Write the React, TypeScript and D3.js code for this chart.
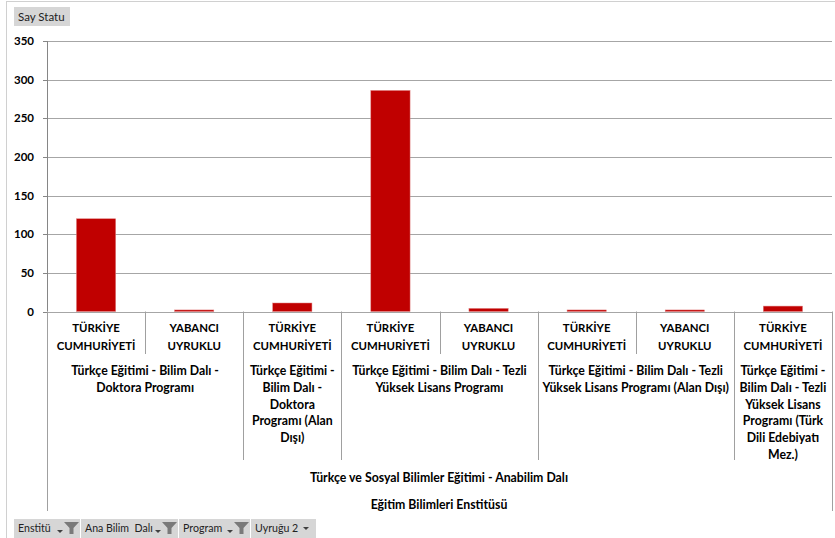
import React from 'react';
import * as d3 from 'd3';

// nationality label per column (level 1)
const nationalities = [
  'TÜRKİYE\nCUMHURİYETİ',
  'YABANCI\nUYRUKLU',
  'TÜRKİYE\nCUMHURİYETİ',
  'TÜRKİYE\nCUMHURİYETİ',
  'YABANCI\nUYRUKLU',
  'TÜRKİYE\nCUMHURİYETİ',
  'YABANCI\nUYRUKLU',
  'TÜRKİYE\nCUMHURİYETİ',
];
// which program each column belongs to (level 2)
const columnProgram = [0, 0, 1, 2, 2, 3, 3, 4];
const programs = [
  'Türkçe Eğitimi - Bilim Dalı -\nDoktora Programı',
  'Türkçe Eğitimi -\nBilim Dalı -\nDoktora\nProgramı (Alan\nDışı)',
  'Türkçe Eğitimi - Bilim Dalı - Tezli\nYüksek Lisans Programı',
  'Türkçe Eğitimi - Bilim Dalı - Tezli\nYüksek Lisans Programı (Alan Dışı)',
  'Türkçe Eğitimi -\nBilim Dalı - Tezli\nYüksek Lisans\nProgramı (Türk\nDili Edebiyatı\nMez.)',
];
const department = 'Türkçe ve Sosyal Bilimler Eğitimi - Anabilim Dalı';
const institute = 'Eğitim Bilimleri Enstitüsü';
const values = [120, 2, 11, 286, 4, 2, 2, 7];
const yTicks = [0, 50, 100, 150, 200, 250, 300, 350];
const seriesButton = 'Say Statu';
const filterButtons = ['Enstitü', 'Ana Bilim  Dalı', 'Program', 'Uyruğu 2'];

const W = 835;
const H = 538;
const FONT = 'Lato, "Liberation Sans", sans-serif';

const Funnel = ({ x, y }: { x: number; y: number }) => (
  <path
    transform={`translate(${x},${y})`}
    d="M0,0 H15 L9.5,6 V12 H5.5 V6 Z"
    fill="#7a7a7a"
  />
);

const Arrow = ({ x, y }: { x: number; y: number }) => (
  <path transform={`translate(${x},${y})`} d="M0,0 H6 L3,3 Z" fill="#404040" />
);

export default function App() {
  const x = d3
    .scaleBand<number>()
    .domain(values.map((_, i) => i))
    .range([47, 832]);
  const y = d3.scaleLinear().domain([0, 350]).range([311.5, 41]);
  const bw = x.bandwidth();
  const barW = bw * 0.4;
  const y0 = y(0);

  // program spans
  const spans = programs.map((label, p) => {
    const cols = columnProgram.map((c, i) => (c === p ? i : -1)).filter((i) => i >= 0);
    const x0 = x(cols[0])!;
    const x1 = x(cols[cols.length - 1])! + bw;
    return { label, x0, x1 };
  });

  const boundaries = d3.range(values.length + 1).map((i) => {
    const bx = i < values.length ? x(i)! : x(values.length - 1)! + bw;
    let end = 354;
    if (i === 0 || i === values.length) end = 511;
    else if (columnProgram[i] !== columnProgram[i - 1]) end = 460;
    return { bx, end };
  });

  const buttonXs = [14, 81, 179, 251];
  const buttonWs = [66, 97, 71, 65];

  return (
    <div style={{ position: 'absolute', left: 0, top: 0 }}>
      <svg width={W} height={H} style={{ display: 'block', fontFamily: FONT }}>
        <rect x={0} y={0} width={W} height={H} fill="#fff" />
        {/* outer chart border */}
        <line x1={6.5} x2={6.5} y1={1} y2={H} stroke="#d0d0d0" />
        <line x1={6} x2={W} y1={1.5} y2={1.5} stroke="#d0d0d0" />

        {/* series field button */}
        <rect x={14} y={7} width={56} height={19} fill="#d6d6d6" />
        <text x={18} y={20.5} fontSize={11.5} fill="#222">
          {seriesButton}
        </text>

        {/* gridlines + y ticks */}
        {yTicks.map((t) => (
          <g key={t}>
            <line x1={47} x2={832} y1={Math.round(y(t)) + 0.5} y2={Math.round(y(t)) + 0.5} stroke="#a6a6a6" />
            <line x1={43} x2={47} y1={Math.round(y(t)) + 0.5} y2={Math.round(y(t)) + 0.5} stroke="#868686" />
            <text
              x={34}
              y={y(t)}
              dy="0.35em"
              textAnchor="end"
              fontSize={11.5}
              fontWeight="bold"
              fill="#000"
            >
              {t}
            </text>
          </g>
        ))}
        <line x1={47.5} x2={47.5} y1={41} y2={y0} stroke="#868686" />

        {/* bars */}
        {values.map((v, i) => (
          <rect
            key={i}
            x={x(i)! + (bw - barW) / 2}
            y={y(v)}
            width={barW}
            height={y0 - y(v)}
            fill="#c00000"
            stroke="#e08080"
            strokeWidth={0.5}
          />
        ))}

        {/* category axis boundaries */}
        {boundaries.map((b, i) => (
          <line
            key={i}
            x1={Math.round(b.bx) + 0.5}
            x2={Math.round(b.bx) + 0.5}
            y1={y0}
            y2={b.end}
            stroke="#a0a0a0"
          />
        ))}

        {/* level 1 labels */}
        {nationalities.map((n, i) => (
          <text
            key={i}
            x={x(i)! + bw / 2}
            y={332}
            textAnchor="middle"
            fontSize={11.4}
            fontWeight="bold"
          >
            {n.split('\n').map((line, k) => (
              <tspan key={k} x={x(i)! + bw / 2} dy={k === 0 ? 0 : 17.5}>
                {line}
              </tspan>
            ))}
          </text>
        ))}

        {/* level 2 labels */}
        {spans.map((s, i) => (
          <text
            key={i}
            x={(s.x0 + s.x1) / 2}
            y={375}
            textAnchor="middle"
            fontSize={12.3}
            fontWeight="bold"
          >
            {s.label.split('\n').map((line, k) => (
              <tspan key={k} x={(s.x0 + s.x1) / 2} dy={k === 0 ? 0 : 16.8}>
                {line}
              </tspan>
            ))}
          </text>
        ))}

        {/* level 3 + 4 labels */}
        <text x={439} y={482} textAnchor="middle" fontSize={12.3} fontWeight="bold">
          {department}
        </text>
        <text x={439} y={509} textAnchor="middle" fontSize={12.3} fontWeight="bold">
          {institute}
        </text>

        {/* filter buttons */}
        {filterButtons.map((b, i) => (
          <g key={b}>
            <rect x={buttonXs[i]} y={519} width={buttonWs[i]} height={19} fill="#d6d6d6" />
            <text x={buttonXs[i] + 4} y={532} fontSize={10.6} fill="#222" style={{ whiteSpace: 'pre' }}>
              {b}
            </text>
            {i < 3 ? (
              <>
                <Arrow x={buttonXs[i] + buttonWs[i] - 23} y={530} />
                <Funnel x={buttonXs[i] + buttonWs[i] - 16} y={522} />
              </>
            ) : (
              <Arrow x={buttonXs[i] + buttonWs[i] - 13} y={527} />
            )}
          </g>
        ))}
      </svg>
    </div>
  );
}
